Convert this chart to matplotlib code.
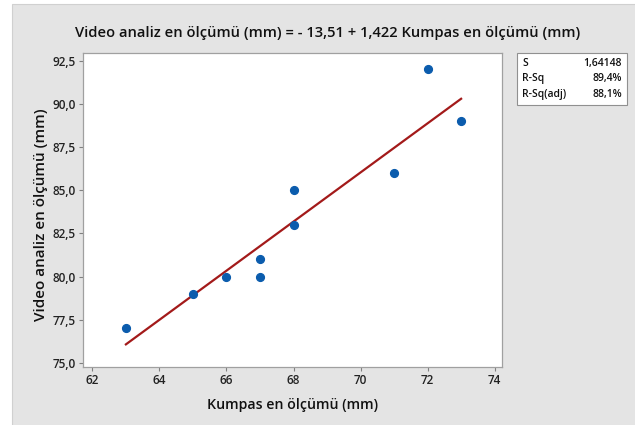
import matplotlib.pyplot as plt
import matplotlib.patches as mpatches

# data
kumpas = [63, 65, 66, 67, 67, 68, 68, 71, 72, 73]
video = [77, 79, 80, 80, 81, 83, 85, 86, 92, 89]
fit_x = [63, 73]
fit_y = [76.08, 90.30]
xticks = [62, 64, 66, 68, 70, 72, 74]
yticks = [75.0, 77.5, 80.0, 82.5, 85.0, 87.5, 90.0, 92.5]
stats_names = ["S", "R-Sq", "R-Sq(adj)"]
stats_values = ["1,64148", "89,4%", "88,1%"]

plt.rcParams['font.family'] = ['Open Sans', 'DejaVu Sans']

bg = '#e4e4e4'
fig = plt.figure(figsize=(6.35, 4.25), dpi=100)
fig.patch.set_facecolor('white')
fig.patches.append(mpatches.Rectangle((12/635, -0.01), 1, 1.01 - 4/425, transform=fig.transFigure,
                                      facecolor=bg, edgecolor='#d0d0d0', lw=0.8, zorder=-1))

ax = fig.add_axes([83/635, 1 - 367/425, (502-83)/635, (367-53)/425])
ax.set_facecolor('white')
ax.plot(fit_x, fit_y, color='#a31a1a', lw=1.6, zorder=2)
ax.plot(kumpas, video, 'o', color='#0b5cad', ms=5.6, zorder=3)

ax.set_xlim(61.72, 74.22)
ax.set_ylim(74.77, 92.95)
ax.set_xticks(xticks)
ax.set_xticklabels([str(t) for t in xticks])
ax.set_yticks(yticks)
ax.set_yticklabels([f"{t:.1f}".replace('.', ',') for t in yticks])
for s in ax.spines.values():
    s.set_color('#a0a0a0')
    s.set_linewidth(0.9)
ax.tick_params(direction='out', length=3, color='#808080', labelsize=8.5, pad=2,
               labelcolor='#222222')
for lab in ax.get_xticklabels() + ax.get_yticklabels():
    lab.set_fontweight('semibold')

ax.set_xlabel("Kumpas en ölçümü (mm)", fontsize=10.2, fontweight='semibold', color='#111111', labelpad=8)
fig.text(41.5/635, 1 - 215/425, "Video analiz en ölçümü (mm)", rotation=90,
         ha='center', va='center', fontsize=11, fontweight='semibold', color='#111111')

fig.text(328/635, 1 - 33/425, "Video analiz en ölçümü (mm) = - 13,51 + 1,422 Kumpas en ölçümü (mm)",
         ha='center', va='center', fontsize=10.6, fontweight='semibold', color='#111111')

# stats box
bx0, by0, bx1, by1 = 517, 53, 627, 105
fig.patches.append(mpatches.Rectangle((bx0/635, 1 - by1/425), (bx1-bx0)/635, (by1-by0)/425,
                                      transform=fig.transFigure, facecolor='white',
                                      edgecolor='#909090', lw=0.8))
for i, (n, v) in enumerate(zip(stats_names, stats_values)):
    yy = 1 - (by0 + 10.5 + i * 15.5) / 425
    fig.text((bx0 + 5)/635, yy, n, ha='left', va='center', fontsize=7.5, fontweight='semibold', color='#111111')
    fig.text((bx1 - 5)/635, yy, v, ha='right', va='center', fontsize=7.5, fontweight='semibold', color='#111111')

fig.savefig('out.png', dpi=100, facecolor=fig.get_facecolor())
